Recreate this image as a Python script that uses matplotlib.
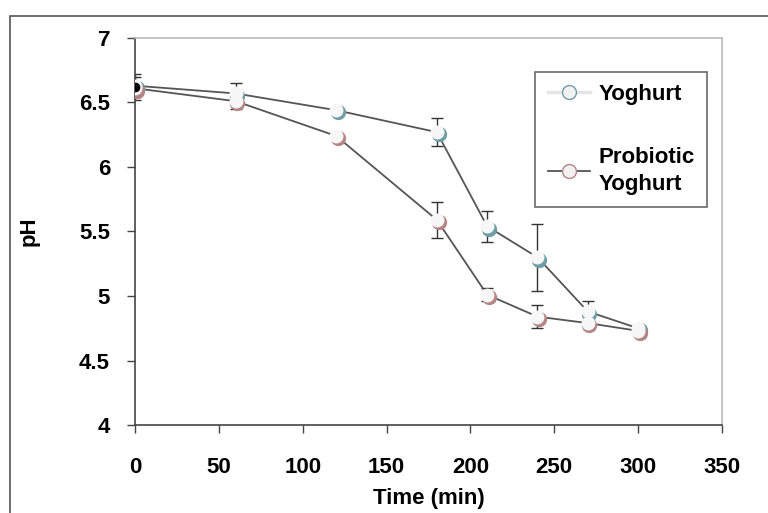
"""pH of yoghurt vs probiotic yoghurt during fermentation."""
import matplotlib
matplotlib.use("Agg")
import matplotlib.pyplot as plt
import matplotlib.transforms as mtransforms
from matplotlib.lines import Line2D
from matplotlib.patches import Rectangle

time_min = [0, 60, 120, 180, 210, 240, 270, 300]
yoghurt_ph = [6.63, 6.57, 6.44, 6.27, 5.54, 5.30, 4.88, 4.75]
yoghurt_err = [0.09, 0.08, 0.0, 0.11, 0.12, 0.26, 0.08, 0.0]
probiotic_ph = [6.61, 6.51, 6.24, 5.59, 5.01, 4.84, 4.79, 4.73]
probiotic_err = [0.09, 0.06, 0.0, 0.14, 0.05, 0.09, 0.0, 0.0]

series = [
    ("Yoghurt", yoghurt_ph, yoghurt_err, "#6f9ea6", "#e6e6e6"),
    ("Probiotic\nYoghurt", probiotic_ph, probiotic_err, "#b58484", "#555555"),
]

plt.rcParams["font.family"] = ["Liberation Sans", "DejaVu Sans"]
plt.rcParams["font.weight"] = "bold"
FS = 16

fig = plt.figure(figsize=(7.68, 5.13), dpi=100)
ax = fig.add_axes([0.1758, 0.1715, 0.7642, 0.7545])

# outer frame of the pasted figure
fig.patches.append(Rectangle((0.013, -0.02), 1.1, 0.989, transform=fig.transFigure,
                             fill=False, edgecolor="#555555", linewidth=1.2))

shadow = mtransforms.offset_copy(ax.transData, fig=fig, x=1.2, y=-1.6, units="points")
for name, ph, err, col, _ in series:
    ax.errorbar(time_min, ph, yerr=err, fmt="none", ecolor="#333333",
                elinewidth=1.0, capsize=4, capthick=1.0, zorder=2)
    ax.plot(time_min, ph, color="#555555", linewidth=1.3, zorder=3)
    ax.plot(time_min, ph, linestyle="none", marker="o", markersize=11,
            markerfacecolor=col, markeredgecolor="none", transform=shadow, zorder=4)
    ax.plot(time_min, ph, linestyle="none", marker="o", markersize=10,
            markerfacecolor="#f7f7f7", markeredgecolor="none", zorder=5)
ax.plot([time_min[0]], [yoghurt_ph[0] - 0.01], linestyle="none", marker="o",
        markersize=6, color="black", zorder=6)

ax.set_xlim(0, 350)
ax.set_ylim(4, 7)
ax.set_xticks(range(0, 351, 50))
ax.set_yticks([4, 4.5, 5, 5.5, 6, 6.5, 7])
ax.set_yticklabels(["4", "4.5", "5", "5.5", "6", "6.5", "7"])
ax.tick_params(direction="out", length=6, width=1.0, colors="#444444",
               labelcolor="black", labelsize=FS)
ax.tick_params(axis="x", pad=17)
ax.tick_params(axis="y", pad=12)
for side in ("left", "bottom"):
    ax.spines[side].set_color("#444444")
    ax.spines[side].set_linewidth(1.2)
for side in ("top", "right"):
    ax.spines[side].set_color("#bbbbbb")
    ax.spines[side].set_linewidth(1.2)

ax.set_xlabel("Time (min)", fontsize=FS, fontweight="bold", labelpad=7)
ax.set_ylabel("pH", fontsize=FS, fontweight="bold")
ax.yaxis.set_label_coords(-0.162, 0.5)

handles = []
for name, ph, err, col, lcol in series:
    handles.append(Line2D([0], [0], color=lcol, linewidth=2.5 if lcol == "#e6e6e6" else 1.3,
                          marker="o", markersize=10, markerfacecolor="#f2f2f2",
                          markeredgecolor=col, markeredgewidth=1.0))
leg = ax.legend(handles, [s[0] for s in series], loc="upper right",
                bbox_to_anchor=(0.975, 0.912), borderaxespad=0, fontsize=FS,
                frameon=True, fancybox=False, edgecolor="#444444", handlelength=1.9,
                labelspacing=1.9, borderpad=0.55, handletextpad=0.4)
leg.get_frame().set_linewidth(1.2)
for t in leg.get_texts():
    t.set_linespacing(1.35)

fig.savefig("out.png", dpi=100)
